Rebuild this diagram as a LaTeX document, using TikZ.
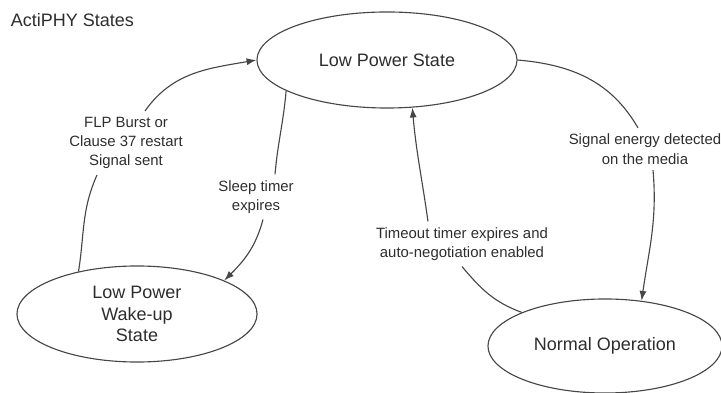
\documentclass[tikz,border=0pt]{standalone}
\usepackage{fontspec}
\setmainfont{Liberation Sans}
\usepackage{xcolor}
\definecolor{stline}{RGB}{70,70,70}
\definecolor{sttext}{RGB}{45,45,45}
\usepackage{tikz}
\usetikzlibrary{arrows.meta, shapes.geometric, calc}

\begin{document}
\begin{tikzpicture}[x=0.025cm, y=0.025cm,
    state/.style={draw=stline, line width=0.8pt, ellipse, inner sep=0pt,
                  text=sttext, font=\fontsize{12.8}{15.3}\selectfont, align=center},
    cond/.style={text=sttext, font=\fontsize{10.6}{13.8}\selectfont,
                 align=center, inner sep=4pt},
    trans/.style={draw=stline, line width=0.8pt},
    arr/.style={trans, -{Latex[length=7pt,width=5pt]}}]

  \useasboundingbox (0,0) rectangle (721,393);

  % Title
  \node[anchor=west, text=sttext, font=\fontsize{12.8}{15}\selectfont]
        (title) at (6,373) {ActiPHY States};

  % States
  \node[state, minimum width=6.5cm, minimum height=2.4cm] (lps) at (387,333) {Low Power State};
  \node[state, minimum width=6cm, minimum height=2.4cm] (wake) at (137,79) {Low Power\\Wake-up\\State};
  \node[state, minimum width=5.85cm, minimum height=2.35cm] (norm) at (605,47) {Normal Operation};

  % Transition conditions
  \node[cond] (flp) at (126,250) {FLP Burst or\\Clause 37 restart\\Signal sent};
  \node[cond] (sleep) at (256,196) {Sleep timer\\expires};
  \node[cond] (tmo) at (462,149) {Timeout timer expires and\\auto-negotiation enabled};
  \node[cond] (sig) at (645,244) {Signal energy detected\\on the media};

  % Transitions
  \draw[trans] (wake.144) to[out=81,in=246] ($(flp.south)+(-29,0)$);
  \draw[arr] ($(flp.north)+(19,0)$) to[out=55,in=190] (lps.west);

  \draw[trans] (lps.197) to[out=265,in=85] ($(sleep.north)+(19,0)$);
  \draw[arr] ($(sleep.south)+(7,0)$) to[out=255,in=45] (wake.21);

  \draw[trans] (norm.158) to[out=160,in=-50] (tmo.south);
  \draw[arr] ($(tmo.north)+(-34,0)$) to[out=98,in=275] (lps.298);

  \draw[trans] (lps.east) to[out=-5,in=120] ($(sig.north)+(-7,0)$);
  \draw[arr] ($(sig.south)+(8,0)$) to[out=-85,in=82] (norm.51);

\end{tikzpicture}
\end{document}
